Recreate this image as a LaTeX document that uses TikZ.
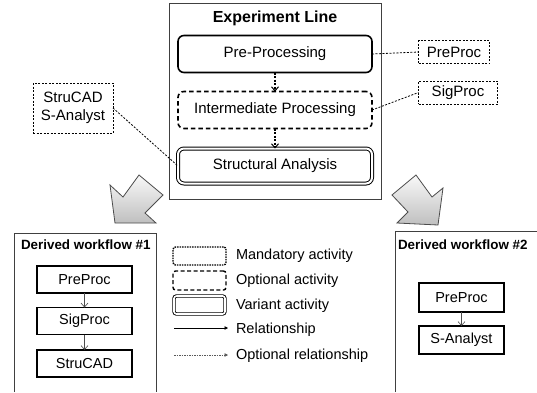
\documentclass[tikz,border=0pt]{standalone}
\usepackage{fontspec}
\setmainfont{Liberation Sans}
\usetikzlibrary{arrows.meta}
\begin{document}
\begin{tikzpicture}[x=1pt,y=-1pt,
  every node/.style={inner sep=0pt, outer sep=0pt, font=\fontsize{15}{18}\selectfont},
  act/.style={draw, rounded corners=6pt, line width=1.6pt, minimum width=194pt, minimum height=37pt},
  lbl/.style={draw, line width=0.8pt, dash pattern=on 2pt off 1.5pt},
  conn/.style={line width=0.8pt, dash pattern=on 2pt off 1.5pt},
  dflow/.style={line width=1.6pt, dash pattern=on 2pt off 1.5pt, -{Straight Barb[length=4pt,width=7pt,line width=1pt]}},
  wf/.style={draw, line width=1.3pt, minimum width=95pt, minimum height=27pt, font=\fontsize{14.5}{17}\selectfont},
  wfarrow/.style={draw=gray!60!black, line width=0.6pt, -{Straight Barb[length=4pt,width=7pt,line width=0.6pt]}},
  frame/.style={draw=black!75, line width=0.9pt},
  title/.style={font=\fontsize{13.4}{16}\selectfont\bfseries},
  legtxt/.style={anchor=west, font=\fontsize{14.5}{17}\selectfont},
  bigarrow/.style={draw=black!70, line width=0.8pt, top color=gray!5, bottom color=gray!50}
]
\useasboundingbox (0,0) rectangle (537,392);

% Experiment line frame
\node[frame, minimum width=212pt, minimum height=196pt] (exp) at (275,101) {};
\node[font=\fontsize{16}{19}\selectfont\bfseries] (exptitle) at (275,18) {Experiment Line};

\node[act] (pre) at (275,54) {Pre-Processing};
\node[act, dash pattern=on 4.5pt off 3pt] (mid) at (275,110) {Intermediate Processing};
\node[act, line width=1pt, double, double distance=2pt, minimum width=194pt, minimum height=35pt] (str) at (275,166) {Structural Analysis};

\draw[dflow] (pre.south) -- (mid.north);
\draw[dflow] (mid.south) -- (str.north);

% labels
\node[lbl, minimum width=71pt, minimum height=23pt] (lpre) at (454,52) {PreProc};
\node[lbl, minimum width=79pt, minimum height=23pt] (lsig) at (458,92.5) {SigProc};
\node[lbl, minimum width=80pt, minimum height=50pt, align=center] (lstr) at (73,108) {StruCAD\\S-Analyst};

\draw[conn] (pre.east) -- (lpre.west);
\draw[conn] (mid.east) -- (lsig.west);
\draw[conn] (lstr.east) -- (str.west);

% big arrows
\shade[bigarrow] (110,185) -- (123,197) -- (139,175) -- (163,195) -- (145,213) -- (156,223) -- (115,223) -- cycle;
\shade[bigarrow] (416,175) -- (392,195) -- (408,212) -- (397,223) -- (438,225) -- (443,188) -- (432,197) -- cycle;

% derived workflow 1
\draw[frame] (14,392) -- (14,233) -- (156,233) -- (156,392);
\node[title, anchor=west] (t1) at (21,245) {Derived workflow \#1};
\node[wf] (w1a) at (84.5,279.5) {PreProc};
\node[wf] (w1b) at (84.5,321) {SigProc};
\node[wf] (w1c) at (84.5,363.5) {StruCAD};
\draw[wfarrow] (w1a.south) -- (w1b.north);
\draw[wfarrow] (w1b.south) -- (w1c.north);

% derived workflow 2
\draw[frame] (395,392) -- (395,231) -- (537,231);
\node[title, anchor=west] (t2) at (398,245) {Derived workflow \#2};
\node[wf, minimum width=85pt, minimum height=29pt] (w2a) at (461.5,297.5) {PreProc};
\node[wf, minimum width=85pt, minimum height=28pt] (w2b) at (461.5,340) {S-Analyst};
\draw[wfarrow] (w2a.south) -- (w2b.north);

% legend
\node[draw, rounded corners=2.5pt, line width=1.4pt, dash pattern=on 1.5pt off 1pt, minimum width=53pt, minimum height=18pt] (lm) at (199.5,256) {};
\node[draw, rounded corners=2.5pt, line width=1.4pt, dash pattern=on 4pt off 2.5pt, minimum width=53pt, minimum height=19pt] (lo) at (199.5,280.5) {};
\node[draw, rounded corners=2.5pt, line width=0.9pt, double, double distance=1.6pt, minimum width=51pt, minimum height=18pt] (lv) at (199.5,305) {};
\coordinate (r1a) at (174,328);
\coordinate (r1b) at (228,328);
\coordinate (r2a) at (174,355);
\coordinate (r2b) at (228,355);
\draw[line width=0.6pt, -{Triangle[length=3.5pt,width=3.5pt]}] (r1a) -- (r1b);
\draw[line width=0.6pt, gray!70!black, dash pattern=on 1.5pt off 1pt, -{Triangle[length=3.5pt,width=3.5pt]}] (r2a) -- (r2b);
\node[legtxt] (tm) at (236,256) {Mandatory activity};
\node[legtxt] (to) at (236,281) {Optional activity};
\node[legtxt] (tv) at (236,306) {Variant activity};
\node[legtxt] (tr) at (236,330) {Relationship};
\node[legtxt] (tor) at (236,356) {Optional relationship};
\end{tikzpicture}
\end{document}
